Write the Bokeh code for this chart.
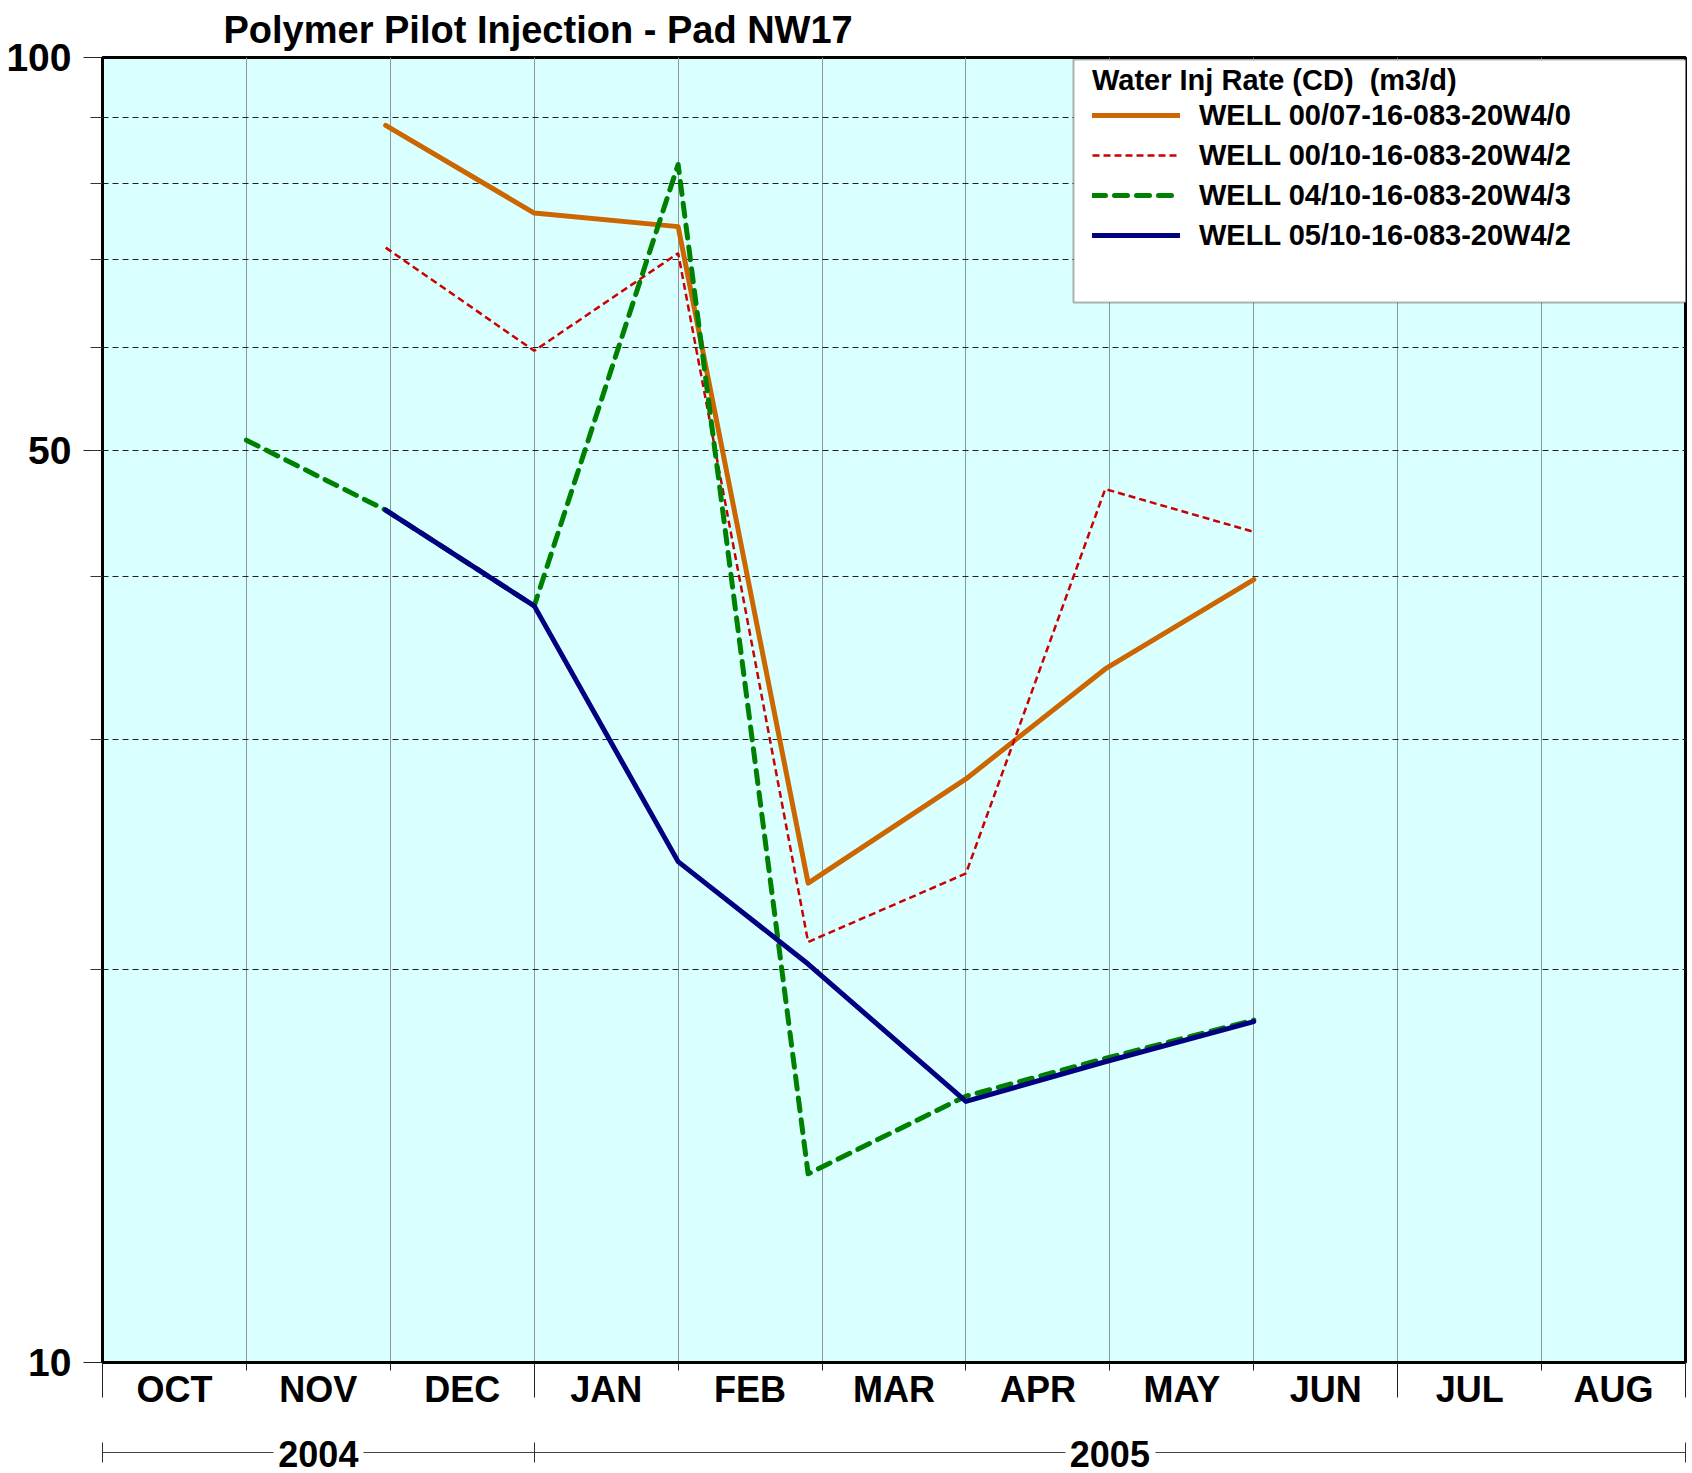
from bokeh.plotting import figure
from bokeh.models import (FixedTicker, PrintfTickFormatter, Legend, LegendItem,
                          BoxAnnotation, LinearAxis, Range1d)
from bokeh.embed import file_html
from bokeh.resources import INLINE

# ---------------- data ----------------
title_text = "Polymer Pilot Injection - Pad NW17"
legend_title = "Water Inj Rate (CD)  (m3/d)"

month_labels = ["OCT", "NOV", "DEC", "JAN", "FEB", "MAR", "APR", "MAY", "JUN", "JUL", "AUG"]
year_labels = ["2004", "2005"]
year_first_month = [0, 3]      # index into month_labels
year_end_month = [3, 11]
long_tick_months = [0, 3, 9, 11]

y_major_ticks = [10, 50, 100]
y_grid_ticks = [20, 30, 40, 50, 60, 70, 80, 90]

well_0007_name = "WELL 00/07-16-083-20W4/0"
well_0007_dates = ["2004-11-30", "2004-12-31", "2005-01-31", "2005-02-28",
                   "2005-03-31", "2005-04-30", "2005-05-31"]
well_0007_rate = [88.7, 76.0, 74.2, 23.3, 28.0, 34.0, 39.8]

well_0010_name = "WELL 00/10-16-083-20W4/2"
well_0010_dates = ["2004-11-30", "2004-12-31", "2005-01-31", "2005-02-28",
                   "2005-03-31", "2005-04-30", "2005-05-31"]
well_0010_rate = [71.5, 59.6, 70.8, 21.0, 23.7, 46.7, 43.3]

well_0410_name = "WELL 04/10-16-083-20W4/3"
well_0410_dates = ["2004-10-31", "2004-11-30", "2004-12-31", "2005-01-31",
                   "2005-02-28", "2005-03-31", "2005-04-30", "2005-05-31"]
well_0410_rate = [50.9, 45.0, 38.0, 82.8, 13.95, 16.0, 17.1, 18.3]

well_0510_name = "WELL 05/10-16-083-20W4/2"
well_0510_dates = ["2004-11-30", "2004-12-31", "2005-01-31", "2005-02-28",
                   "2005-03-31", "2005-04-30", "2005-05-31"]
well_0510_rate = [45.0, 38.0, 24.2, 20.2, 15.85, 17.0, 18.25]


def month_pos(d):
    y, m, day = (int(v) for v in d.split("-"))
    return (y - 2004) * 12 + (m - 10) + day / 31.0


FONT = "Liberation Sans"
BG = "#DAFFFF"
n_months = len(month_labels)
W, H = 1692, 1473
BL, BR, BT, BB = 102, 7, 56, 111

p = figure(width=W, height=H, y_axis_type="log",
           x_range=Range1d(0, n_months), y_range=Range1d(10, 100),
           output_backend="svg", toolbar_location=None,
           min_border_left=BL, min_border_right=BR, min_border_top=BT, min_border_bottom=BB,
           background_fill_color=BG, border_fill_color="white")
p.outline_line_color = "black"
p.outline_line_width = 3

# title
p.title.text = title_text
p.title.align = "left"
p.title.vertical_align = "bottom"
p.title.offset = 121
p.title.standoff = 13
p.title.text_font = FONT
p.title.text_font_style = "bold"
p.title.text_font_size = "38px"
p.title.text_color = "black"

# grids
p.ygrid.ticker = FixedTicker(ticks=y_grid_ticks)
p.ygrid.grid_line_color = "#202020"
p.ygrid.grid_line_dash = "6 4"
p.ygrid.grid_line_width = 1
p.xgrid.ticker = FixedTicker(ticks=list(range(1, n_months)))
p.xgrid.grid_line_color = "#8c9898"
p.xgrid.grid_line_width = 1

# y axis
ya = p.yaxis[0]
ya.ticker = FixedTicker(ticks=y_major_ticks, minor_ticks=y_grid_ticks)
ya.formatter = PrintfTickFormatter(format="%d")
ya.major_tick_out = 19
ya.major_tick_in = 0
ya.minor_tick_out = 12
ya.minor_tick_in = 0
ya.major_tick_line_color = "#222222"
ya.minor_tick_line_color = "#333333"
ya.axis_line_color = "black"
ya.axis_line_width = 3
ya.major_label_text_font = FONT
ya.major_label_text_font_style = "bold"
ya.major_label_text_font_size = "39px"
ya.major_label_text_color = "black"
ya.major_label_standoff = 12

# x axis 1 (at the frame): long ticks at year / half-year boundaries, short month ticks
xt = p.xaxis[0]
xt.ticker = FixedTicker(ticks=long_tick_months,
                        minor_ticks=[m for m in range(1, n_months) if m not in long_tick_months])
xt.major_label_overrides = {m: "" for m in long_tick_months}
xt.major_label_text_font_size = "0px"
xt.major_label_standoff = 0
xt.major_tick_out = 35
xt.major_tick_in = 0
xt.minor_tick_out = 8
xt.minor_tick_in = 0
xt.major_tick_line_color = "#222222"
xt.minor_tick_line_color = "#222222"
xt.axis_line_color = "black"
xt.axis_line_width = 3

# x axis 2: month names at mid-month
mids = [i + 0.5 for i in range(n_months)]
xm = LinearAxis(ticker=FixedTicker(ticks=mids, minor_ticks=[]))
xm.major_label_overrides = {m: lab for m, lab in zip(mids, month_labels)}
xm.major_tick_out = 0
xm.major_tick_in = 0
xm.minor_tick_out = 0
xm.axis_line_color = None
xm.major_tick_line_color = None
xm.minor_tick_line_color = None
xm.major_label_text_font = FONT
xm.major_label_text_font_style = "bold"
xm.major_label_text_font_size = "36px"
xm.major_label_text_color = "black"
xm.major_label_standoff = -29
p.add_layout(xm, "below")

# x axis 3: blank spacer (white tick on white)
xs = LinearAxis(ticker=FixedTicker(ticks=[0], minor_ticks=[]))
xs.major_label_overrides = {0: ""}
xs.major_label_text_font_size = "0px"
xs.major_label_standoff = 0
xs.major_tick_out = 40
xs.major_tick_in = 0
xs.minor_tick_out = 0
xs.major_tick_line_color = "white"
xs.minor_tick_line_color = None
xs.axis_line_color = None
p.add_layout(xs, "below")

# x axis 4: year row
year_mid = [(a + b) / 2 for a, b in zip(year_first_month, year_end_month)]
xy = LinearAxis(ticker=FixedTicker(ticks=year_mid,
                                   minor_ticks=sorted(set(year_first_month + year_end_month))))
xy.major_label_overrides = {m: lab for m, lab in zip(year_mid, year_labels)}
xy.major_tick_in = 0
xy.major_tick_out = 0
xy.major_tick_line_color = None
xy.minor_tick_in = 10
xy.minor_tick_out = 10
xy.minor_tick_line_color = "#333333"
xy.axis_line_color = "#444444"
xy.axis_line_width = 1
# leave a gap in the year line around each year label
frame_w = W - BL - BR
ppm = frame_w / n_months
half_gap = 45
dash = []
pos = 0.0
for m in year_mid:
    dash += [int(round(m * ppm - half_gap - pos)), 2 * half_gap]
    pos = m * ppm + half_gap
dash.append(int(round(frame_w - pos + 50)))
xy.axis_line_dash = dash
xy.major_label_text_font = FONT
xy.major_label_text_font_style = "bold"
xy.major_label_text_font_size = "36px"
xy.major_label_text_color = "black"
xy.major_label_standoff = -22
p.add_layout(xy, "below")

# series
r1 = p.line([month_pos(d) for d in well_0007_dates], well_0007_rate, line_color="#CC6600",
            line_width=5, line_join="round", line_cap="round")
r2 = p.line([month_pos(d) for d in well_0010_dates], well_0010_rate, line_color="#CC0000",
            line_width=2.5, line_dash="7 4")
r3 = p.line([month_pos(d) for d in well_0410_dates], well_0410_rate, line_color="#008000",
            line_width=5, line_dash="13 9", line_join="round", line_cap="round")
r4 = p.line([month_pos(d) for d in well_0510_dates], well_0510_rate, line_color="#000080",
            line_width=5, line_join="round", line_cap="round")

# legend box and legend
p.add_layout(BoxAnnotation(left=971, right=1700, top=1303, bottom=1060,
                           left_units="screen", right_units="screen",
                           top_units="screen", bottom_units="screen",
                           fill_color="white", fill_alpha=1.0,
                           line_color="black", line_width=2))
legend = Legend(items=[LegendItem(label=well_0007_name, renderers=[r1]),
                       LegendItem(label=well_0010_name, renderers=[r2]),
                       LegendItem(label=well_0410_name, renderers=[r3]),
                       LegendItem(label=well_0510_name, renderers=[r4])],
                location=(990, 1109), title=legend_title,
                title_text_font=FONT, title_text_font_style="bold", title_text_font_size="29px",
                title_text_color="black",
                label_text_font=FONT, label_text_font_style="bold", label_text_font_size="29px",
                label_text_color="black",
                glyph_width=88, glyph_height=36, label_height=36, spacing=4,
                label_standoff=19, padding=5, margin=0, title_standoff=-8,
                border_line_color=None, background_fill_alpha=0.0)
p.add_layout(legend)

open("out.html", "w").write(file_html(p, INLINE))
